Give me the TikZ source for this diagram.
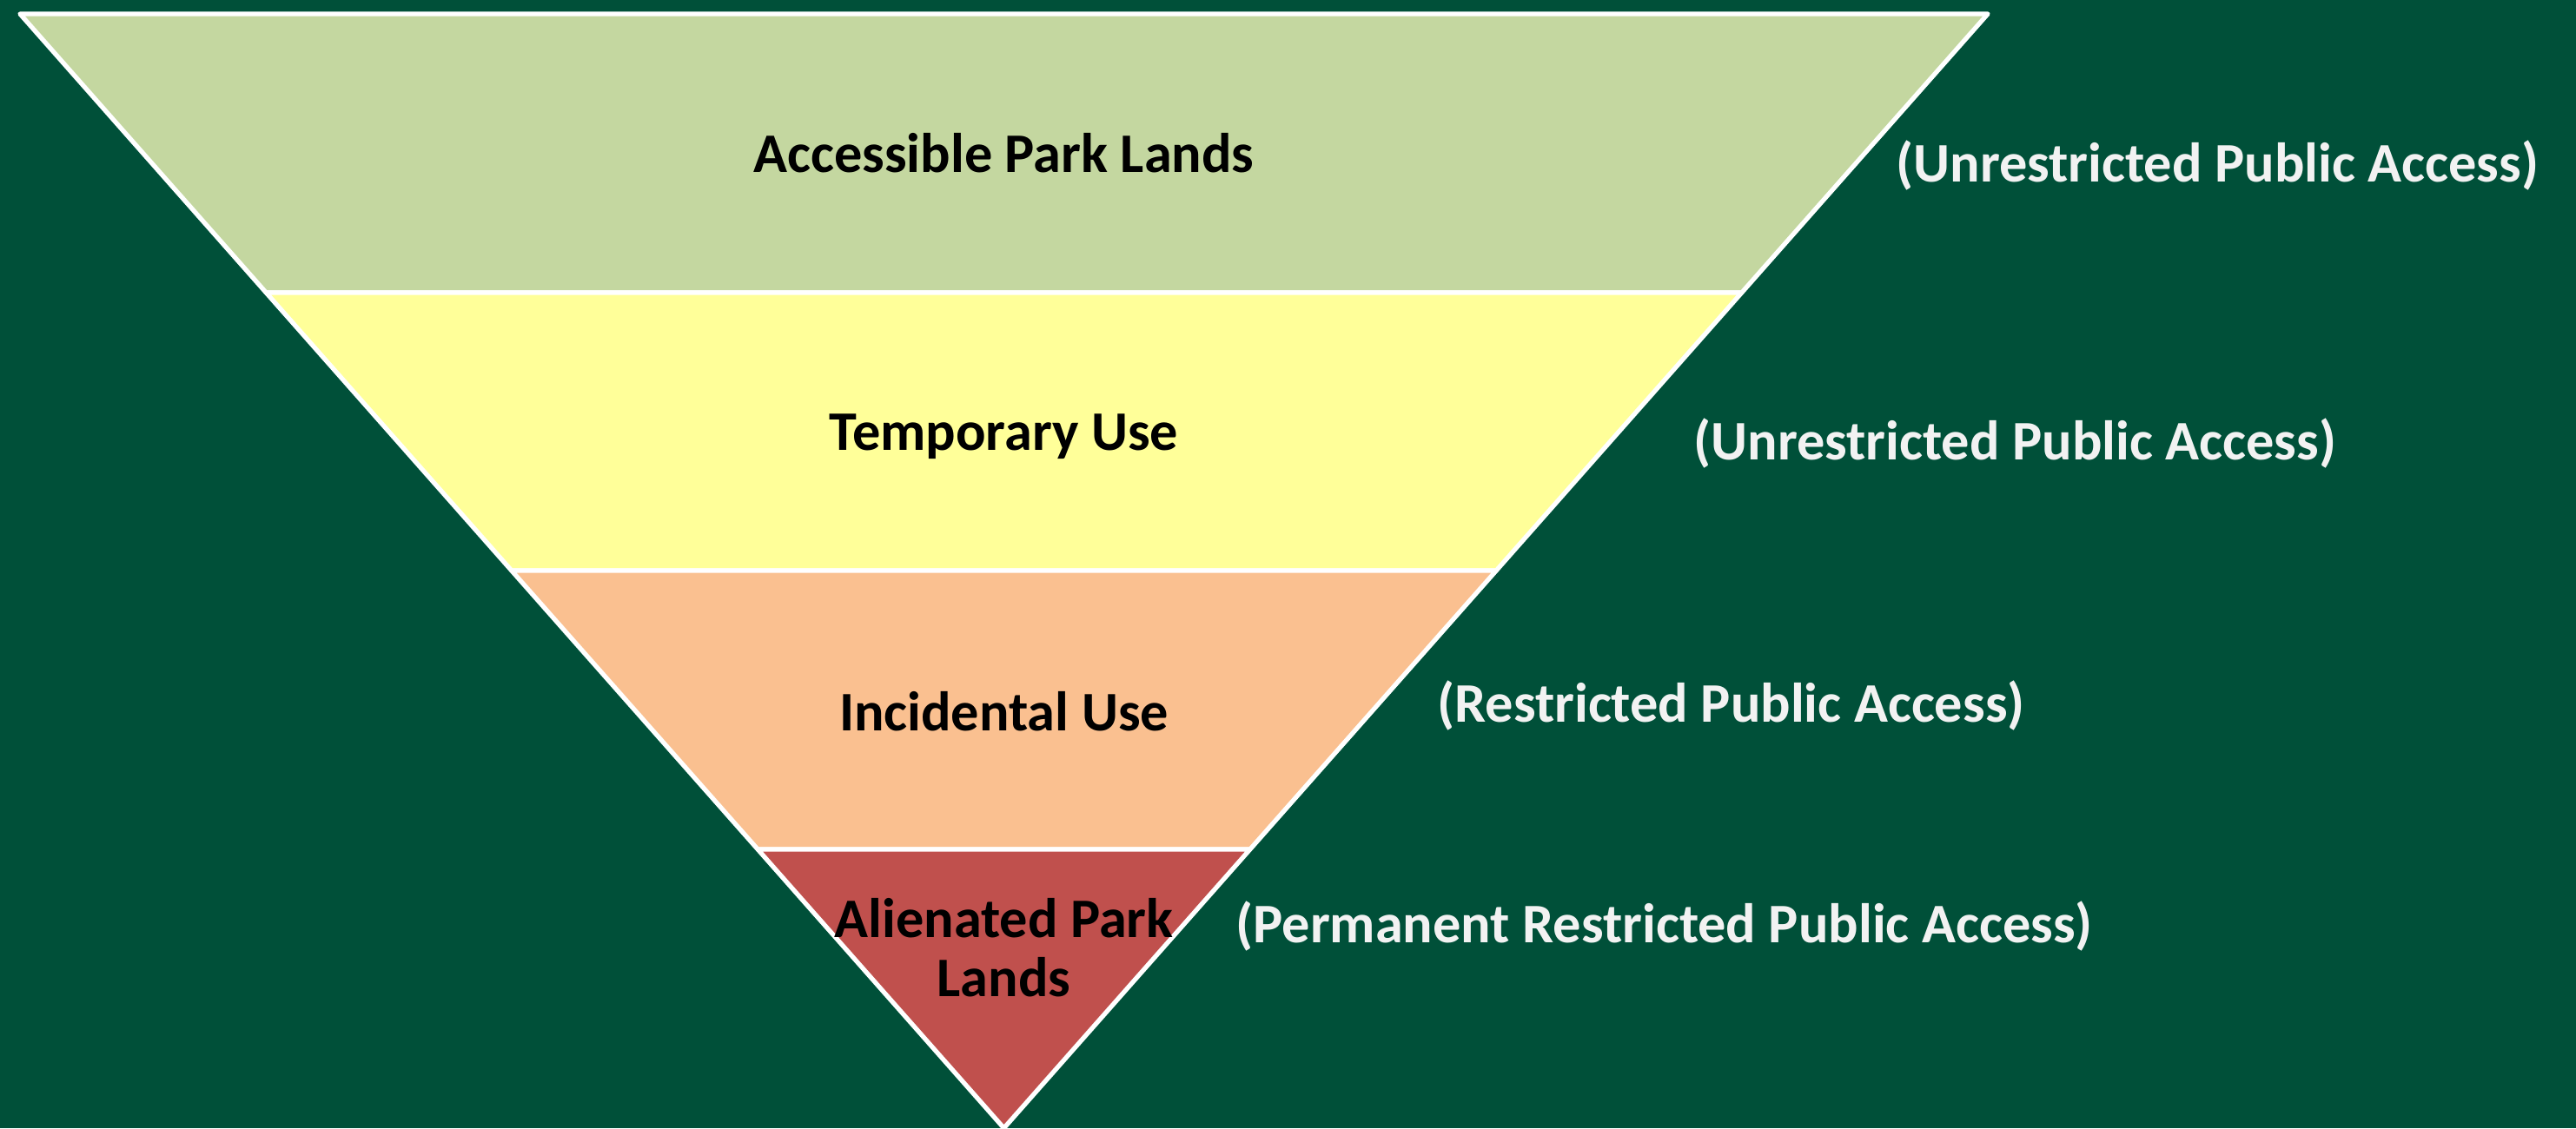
\documentclass[tikz,border=0pt]{standalone}
\usepackage{fontspec}
\setmainfont{Carlito}
\begin{document}
\begin{tikzpicture}[
    band/.style={draw=white, line width=1.5pt, line join=round},
    layer/.style={font=\fontsize{18.3}{19.4}\selectfont\bfseries, text=black, align=center},
    access/.style={font=\fontsize{18.3}{19.4}\selectfont\bfseries, text={rgb,255:red,242; green,242; blue,242}, anchor=west}
  ]
    \fill [color={rgb,255:red,0; green,80; blue,57}] (0,0) rectangle (29.65,12.99);
    \useasboundingbox (0,0) rectangle (29.65,12.99);
    \draw [band, fill={rgb,255:red,196; green,215; blue,160}] (0.23,12.83) -- (22.88,12.83) -- (20.047,9.62) -- (3.063,9.62) -- cycle;
    \draw [band, fill={rgb,255:red,255; green,255; blue,153}] (3.063,9.62) -- (20.047,9.62) -- (17.222,6.42) -- (5.888,6.42) -- cycle;
    \draw [band, fill={rgb,255:red,250; green,192; blue,144}] (5.888,6.42) -- (17.222,6.42) -- (14.388,3.21) -- (8.722,3.21) -- cycle;
    \draw [band, fill={rgb,255:red,192; green,80; blue,77}] (8.722,3.21) -- (14.388,3.21) -- (11.555,0) -- cycle;
    \node [layer] (accessible) at (11.555,11.23) {Accessible Park Lands};
    \node [layer] (temporary) at (11.555,7.96) {Temporary Use};
    \node [layer] (incidental) at (11.555,4.80) {Incidental Use};
    \node [layer] (alienated) at (11.555,2.08) {Alienated Park\\Lands};
    \node [access] (unrestricted1) at (21.70,11.08) {(Unrestricted Public Access)};
    \node [access] (unrestricted2) at (19.37,7.88) {(Unrestricted Public Access)};
    \node [access] (restricted) at (16.42,4.86) {(Restricted Public Access)};
    \node [access] (permanent) at (14.10,2.32) {(Permanent Restricted Public Access)};
  \end{tikzpicture}
\end{document}
